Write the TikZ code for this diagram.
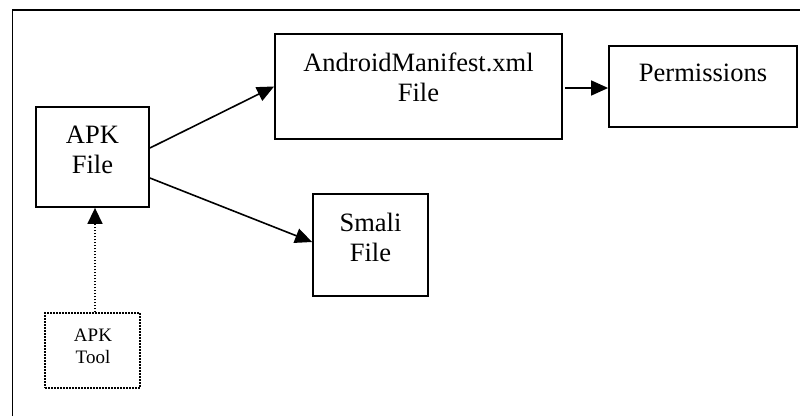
\documentclass[tikz,border=0pt]{standalone}
\usepackage{fontspec}
\setmainfont{Liberation Serif}
\usetikzlibrary{arrows.meta,calc}
\tikzset{
  box/.style={draw, line width=1.8pt, inner sep=0pt},
  toolbox/.style={draw, line width=1.5pt, dash pattern=on 1.6pt off 1.4pt, inner sep=0pt},
  txt/.style={align=center, inner sep=0pt, font=\fontsize{26.5}{30}\selectfont},
  smalltxt/.style={align=center, inner sep=0pt, font=\fontsize{19}{22}\selectfont},
  flow/.style={line width=1.6pt, -{Triangle[length=17pt,width=15pt]}},
  dotflow/.style={line width=1.5pt, dash pattern=on 1.6pt off 1.4pt, -{Triangle[length=16pt,width=15pt]}}
}
\begin{document}
\begin{tikzpicture}[x=1pt, y=-1pt]
  \useasboundingbox (0,0) rectangle (800,416);
  \fill[white] (0,0) rectangle (800,416);
  % enclosing frame (only its top and left sides fall on the page)
  \draw[line width=1.8pt] (12.5,416) -- (12.5,10) -- (800,10);

  % boxes
  \node[box, minimum width=113pt, minimum height=100pt] (apk) at (92.5,157) {};
  \node[txt] at (92.5,150) {APK\\File};

  \node[box, minimum width=287pt, minimum height=105pt] (man) at (418.5,86.5) {};
  \node[txt] at (418.5,77) {AndroidManifest.xml\\File};

  \node[box, minimum width=188pt, minimum height=81pt] (perm) at (703,86.5) {};
  \node[txt] at (703,73) {Permissions};

  \node[box, minimum width=115pt, minimum height=102pt] (smali) at (370.5,245) {};
  \node[txt] at (370.5,237) {Smali\\File};

  \node[toolbox, minimum width=95pt, minimum height=75pt] (tool) at (92.5,350.5) {};
  \node[smalltxt] at (93,346) {APK\\Tool};

  % connectors
  \draw[flow] ($(apk.east)+(0,-9)$) -- (man.west);
  \draw[flow] ($(apk.east)+(0,21)$) -- ($(smali.west)+(0,-3)$);
  \draw[flow, shorten <=2pt] ($(man.east)+(0,1.5)$) -- ($(perm.west)+(0,1.5)$);
  \draw[dotflow] ($(tool.north)+(2.5,0)$) -- ($(apk.south)+(2.5,0)$);
\end{tikzpicture}
\end{document}
